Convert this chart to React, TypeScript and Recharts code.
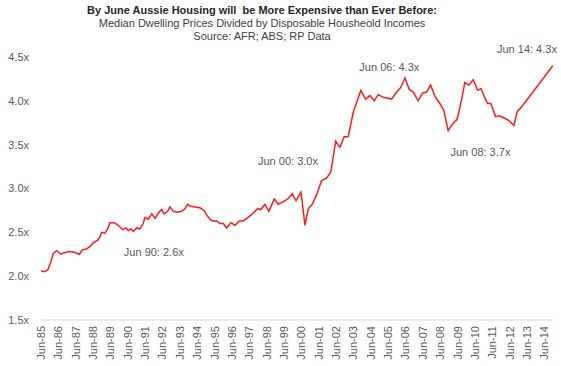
import React from "react";
import { LineChart, Line, XAxis, YAxis, ReferenceDot } from "recharts";

const titleLines = [
  "By June Aussie Housing will  be More Expensive than Ever Before:",
  "Median Dwelling Prices Divided by Disposable Housheold Incomes",
  "Source: AFR; ABS; RP Data",
];

// time (decimal year) of each observation
const dates = [
  1985.5, 1985.69, 1985.89, 1986.08, 1986.21, 1986.4, 1986.65, 1986.88, 1987.17, 1987.46,
  1987.71, 1987.88, 1988.13, 1988.32, 1988.51, 1988.77, 1988.9, 1989.0, 1989.19, 1989.34,
  1989.47, 1989.72, 1989.95, 1990.21, 1990.4, 1990.53, 1990.68, 1990.82, 1991.01, 1991.2,
  1991.39, 1991.49, 1991.68, 1991.88, 1992.07, 1992.26, 1992.45, 1992.59, 1992.8, 1992.93,
  1993.12, 1993.35, 1993.6, 1993.79, 1993.95, 1994.08, 1994.37, 1994.66, 1994.89, 1995.08,
  1995.23, 1995.37, 1995.62, 1995.81, 1996.0, 1996.2, 1996.44, 1996.68, 1996.92, 1997.15,
  1997.44, 1997.73, 1997.98, 1998.17, 1998.4, 1998.63, 1998.94, 1999.17, 1999.46, 1999.71,
  1999.98, 2000.19, 2000.48, 2000.71, 2000.9, 2001.13, 2001.38, 2001.67, 2001.96, 2002.2,
  2002.48, 2002.72, 2002.97, 2003.2, 2003.49, 2003.93, 2004.2, 2004.45, 2004.7, 2004.93,
  2005.22, 2005.7, 2005.99, 2006.22, 2006.47, 2006.72, 2006.95, 2007.23, 2007.49, 2007.72,
  2007.95, 2008.2, 2008.48, 2008.71, 2008.96, 2009.22, 2009.48, 2009.73, 2009.92, 2010.15,
  2010.4, 2010.66, 2010.85, 2011.08, 2011.23, 2011.42, 2011.69, 2011.9, 2012.13, 2012.42,
  2012.75, 2012.94, 2013.19, 2014.99,
];

// median dwelling price / disposable household income
const ratio = [
  2.06, 2.05, 2.07, 2.17, 2.26, 2.29, 2.25, 2.27, 2.28, 2.27,
  2.25, 2.3, 2.31, 2.34, 2.38, 2.41, 2.45, 2.5, 2.49, 2.54,
  2.61, 2.61, 2.58, 2.53, 2.55, 2.52, 2.54, 2.51, 2.55, 2.54,
  2.6, 2.67, 2.65, 2.71, 2.66, 2.72, 2.76, 2.71, 2.74, 2.79,
  2.74, 2.73, 2.74, 2.77, 2.82, 2.8, 2.79, 2.78, 2.75, 2.69,
  2.65, 2.63, 2.63, 2.6, 2.6, 2.55, 2.61, 2.58, 2.63, 2.63,
  2.67, 2.72, 2.77, 2.76, 2.82, 2.74, 2.88, 2.82, 2.85, 2.88,
  2.94, 2.86, 2.96, 2.58, 2.77, 2.82, 2.93, 3.09, 3.12, 3.19,
  3.54, 3.47, 3.59, 3.59, 3.87, 4.12, 4.02, 4.06, 4.0, 4.07,
  4.04, 4.02, 4.1, 4.15, 4.26, 4.13, 4.1, 4.0, 4.09, 4.1,
  4.18, 4.05, 3.97, 3.89, 3.66, 3.74, 3.79, 4.01, 4.21, 4.18,
  4.24, 4.12, 4.14, 4.03, 3.97, 3.97, 3.82, 3.83, 3.81, 3.78,
  3.72, 3.88, 3.93, 4.4,
];

const xTickLabels = [
  "Jun-85", "Jun-86", "Jun-87", "Jun-88", "Jun-89", "Jun-90", "Jun-91", "Jun-92", "Jun-93", "Jun-94",
  "Jun-95", "Jun-96", "Jun-97", "Jun-98", "Jun-99", "Jun-00", "Jun-01", "Jun-02", "Jun-03", "Jun-04",
  "Jun-05", "Jun-06", "Jun-07", "Jun-08", "Jun-09", "Jun-10", "Jun-11", "Jun-12", "Jun-13", "Jun-14",
];

const yTicks = [1.5, 2.0, 2.5, 3.0, 3.5, 4.0, 4.5];

const annotationText = ["Jun 90: 2.6x", "Jun 00: 3.0x", "Jun 06: 4.3x", "Jun 08: 3.7x", "Jun 14: 4.3x"];
const annotationT = [1992.0, 1999.73, 2005.57, 2010.82, 2013.5];
const annotationV = [2.28, 3.31, 4.39, 3.42, 4.59];

const data = dates.map((t, i) => ({ t, v: ratio[i] }));

const labelPos = (l: string) => {
  const yy = Number(l.slice(4));
  return (yy < 50 ? 2000 + yy : 1900 + yy) + 0.5;
};
const xTicks = xTickLabels.map(labelPos);
const labelByPos = new Map(xTickLabels.map((l) => [labelPos(l), l]));

const FONT = "'Liberation Sans', Arial, sans-serif";
const TICK_COLOR = "#595959";

const XTick = (props: any) => {
  const { x, y, payload } = props;
  return (
    <text
      x={x}
      y={y}
      transform={`rotate(-90 ${x} ${y})`}
      textAnchor="end"
      dominantBaseline="central"
      fontSize={11}
      fill={TICK_COLOR}
      fontFamily={FONT}
    >
      {labelByPos.get(payload.value) ?? ""}
    </text>
  );
};

export default function App() {
  return (
    <div style={{ position: "fixed", left: 0, top: 0, width: 561, height: 366, background: "#fff", fontFamily: FONT }}>
      <div style={{ position: "absolute", left: 0, width: 524, top: 4, textAlign: "center", lineHeight: "13px" }}>
        <div style={{ fontSize: 11, fontWeight: "bold", color: "#262626", whiteSpace: "pre" }}>{titleLines[0]}</div>
        <div style={{ fontSize: 11, color: "#404040" }}>{titleLines[1]}</div>
        <div style={{ fontSize: 11, color: "#404040" }}>{titleLines[2]}</div>
      </div>
      <div style={{ position: "absolute", left: 0, top: 0 }}>
        <LineChart width={561} height={366} data={data} margin={{ top: 57, right: 8, bottom: 6, left: 0 }}>
          <XAxis
            dataKey="t"
            type="number"
            domain={[1985.5, 2015.0]}
            ticks={xTicks}
            interval={0}
            tick={<XTick />}
            tickLine={false}
            tickSize={0}
            tickMargin={6}
            height={40}
            axisLine={{ stroke: "#d9d9d9" }}
            allowDataOverflow
          />
          <YAxis
            type="number"
            domain={[1.5, 4.5]}
            ticks={yTicks}
            interval={0}
            tickFormatter={(v: number) => v.toFixed(1) + "x"}
            axisLine={false}
            tickLine={false}
            tickSize={0}
            tickMargin={12}
            width={41}
            tick={{ fontSize: 11, fill: TICK_COLOR, fontFamily: FONT }}
            allowDataOverflow
          />
          <Line
            type="linear"
            dataKey="v"
            stroke="#ff1a1a"
            strokeWidth={1.5}
            dot={false}
            isAnimationActive={false}
          />
          {annotationText.map((txt, i) => (
            <ReferenceDot
              key={txt}
              x={annotationT[i]}
              y={annotationV[i]}
              r={0}
              fill="none"
              stroke="none"
              ifOverflow="visible"
              label={{ value: txt, position: "center", fontSize: 11, fill: TICK_COLOR, fontFamily: FONT }}
            />
          ))}
        </LineChart>
      </div>
    </div>
  );
}
